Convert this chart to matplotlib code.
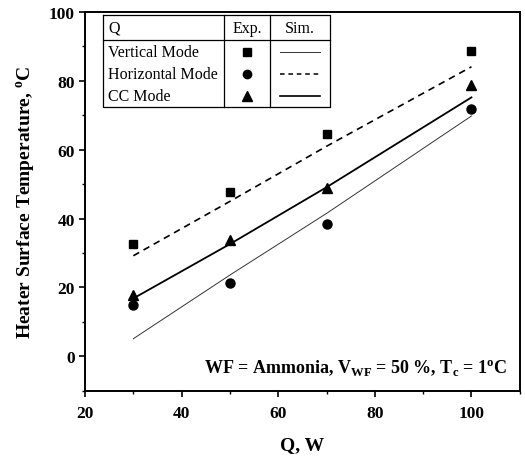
import matplotlib
matplotlib.use("Agg")
import matplotlib.pyplot as plt
from matplotlib.ticker import MultipleLocator

plt.rcParams["font.family"] = "Liberation Serif"
plt.rcParams["mathtext.fontset"] = "custom"
plt.rcParams["mathtext.rm"] = "Liberation Serif"
plt.rcParams["mathtext.bf"] = "Liberation Serif:bold"

# Experimental points
q_exp = [30, 50, 70, 100]
vertical_exp = [32.6, 47.6, 64.5, 88.7]
horizontal_exp = [14.9, 21.4, 38.5, 71.8]
cc_exp = [17.8, 33.8, 49.0, 78.8]

# Simulation lines
q_sim = [30, 50, 70, 100]
sim_dashed = [29.2, 45.0, 61.0, 84.1]
sim_thin = [5.1, 23.6, 41.5, 69.8]
sim_solid = [16.8, 32.6, 49.1, 75.2]

fig = plt.figure(figsize=(5.25, 4.6), dpi=100)
ax = fig.add_axes([0.162, 0.1485, 0.828, 0.8232])

ax.plot(q_sim, sim_dashed, color="black", lw=1.2, ls=(0, (4, 3)))
ax.plot(q_sim, sim_thin, color="#333333", lw=0.7)
ax.plot(q_sim, sim_solid, color="black", lw=1.3)

ax.plot(q_exp, vertical_exp, "s", color="black", ms=6, ls="none")
ax.plot(q_exp, horizontal_exp, "o", color="black", ms=6.5, ls="none")
ax.plot(q_exp, cc_exp, "^", color="black", ms=7, ls="none")

ax.set_xlim(20, 110)
ax.set_ylim(-10, 100)
ax.xaxis.set_major_locator(MultipleLocator(20))
ax.xaxis.set_minor_locator(MultipleLocator(10))
ax.yaxis.set_major_locator(MultipleLocator(20))
ax.yaxis.set_minor_locator(MultipleLocator(10))
ax.tick_params(which="major", direction="out", length=4, width=1.2, labelsize=12.5)
ax.tick_params(axis="x", which="major", pad=6)
ax.tick_params(which="minor", direction="out", length=2.5, width=1)
for lab in ax.get_xticklabels() + ax.get_yticklabels():
    lab.set_fontweight("bold")
for s in ax.spines.values():
    s.set_linewidth(1.4)

ax.set_xlabel("Q, W", fontsize=14, fontweight="bold", labelpad=11)
ax.set_ylabel(r"Heater Surface Temperature, $^{\mathbf{o}}$C", fontsize=14,
              fontweight="bold", labelpad=8)

ax.text(0.972, 0.06,
        r"WF = Ammonia, V$_{\mathbf{WF}}$ = 50 %, T$_{\mathbf{c}}$ = 1$^{\mathbf{o}}$C",
        transform=ax.transAxes, ha="right", va="center", fontsize=13, fontweight="bold")

# table style legend
tr = ax.transAxes
x0, x1, x2, x3 = 0.0414, 0.3195, 0.4253, 0.563
y_top, y_head, y_bot = 0.992, 0.925, 0.749
kw = dict(transform=tr, color="black", lw=0.9, clip_on=False)
ax.plot([x0, x3, x3, x0, x0], [y_top, y_top, y_bot, y_bot, y_top], **kw)
ax.plot([x0, x3], [y_head, y_head], **kw)
ax.plot([x1, x1], [y_top, y_bot], **kw)
ax.plot([x2, x2], [y_top, y_bot], **kw)

ax.text(0.053, 0.958, "Q", transform=tr, ha="left", va="center", fontsize=11.5)
ax.text((x1 + x2) / 2, 0.958, "Exp.", transform=tr, ha="center", va="center", fontsize=11.5)
ax.text((x2 + x3) / 2, 0.958, "Sim.", transform=tr, ha="center", va="center", fontsize=11.5)

rows = ["Vertical Mode", "Horizontal Mode", "CC Mode"]
row_y = [0.895, 0.837, 0.778]
row_marker = ["s", "o", "^"]
row_ms = [5.5, 6, 6.5]
row_line = [dict(lw=0.7, color="#333333"),
            dict(lw=1.1, color="black", ls=(0, (3, 2.5))),
            dict(lw=1.2, color="black")]
for name, yy, mk, ms, lk in zip(rows, row_y, row_marker, row_ms, row_line):
    ax.text(0.053, yy, name, transform=tr, ha="left", va="center", fontsize=11.5)
    ax.plot([(x1 + x2) / 2], [yy], mk, color="black", ms=ms, transform=tr, clip_on=False)
    ax.plot([0.448, 0.540], [yy, yy], transform=tr, clip_on=False, **lk)

fig.savefig("out.png", dpi=100)
